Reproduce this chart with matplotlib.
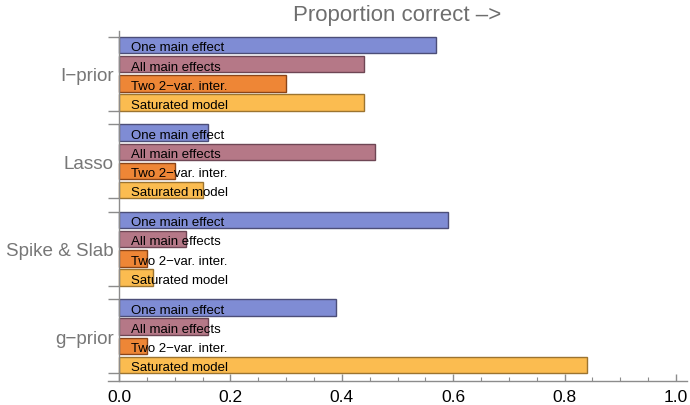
import numpy as np
import matplotlib
matplotlib.use('Agg')
import matplotlib.pyplot as plt
import matplotlib.ticker as ticker

plt.rcParams.update({
    'font.family': ['Liberation Sans', 'DejaVu Sans'],
})

# ---- data ----
methods = ['I\u2212prior', 'Lasso', 'Spike & Slab', 'g\u2212prior']
scenarios = ['One main effect', 'All main effects', 'Two 2\u2212var. inter.', 'Saturated model']
iprior = [0.57, 0.44, 0.30, 0.44]
lasso = [0.16, 0.46, 0.10, 0.15]
spike_slab = [0.59, 0.12, 0.05, 0.06]
gprior = [0.39, 0.16, 0.05, 0.84]
values = [iprior, lasso, spike_slab, gprior]

fills = ['#7F8CD4', '#B57887', '#EE8636', '#FBBC50']
edges = ['#4C4E78', '#6E4654', '#8A4418', '#9C7430']
axis_grey = '#8C8C8C'

fig = plt.figure(figsize=(6.9, 4.06), dpi=100)
ax = fig.add_axes([108 / 690, 24 / 406, 579 / 690, 350 / 406])

group_pitch = 4.56
bar_h = 0.85
n = len(scenarios)

for g, vals in enumerate(values):
    base = g * group_pitch
    for i, v in enumerate(vals):
        y = base + i
        ax.barh(y, v, height=bar_h, color=fills[i], edgecolor=edges[i],
                linewidth=1.0, zorder=2)
        ax.text(0.022, y + 0.12, scenarios[i], fontsize=9.5, va='center',
                ha='left', color='black', zorder=3)

group_centers = [g * group_pitch + (n - 1) / 2 for g in range(len(methods))]
edges_y = []
for g in range(len(methods)):
    edges_y += [g * group_pitch - bar_h / 2, g * group_pitch + n - 1 + bar_h / 2]

ax.set_xlim(-0.02, 1.02)
ax.set_ylim(3 * group_pitch + n - 1 + bar_h / 2 + 0.41, -bar_h / 2 - 0.31)

ax.spines['top'].set_visible(False)
ax.spines['right'].set_visible(False)
ax.spines['left'].set_position(('data', 0))
for s in ['left', 'bottom']:
    ax.spines[s].set_color(axis_grey)
    ax.spines[s].set_linewidth(1.0)

ax.set_yticks(group_centers)
ax.set_yticklabels(methods, fontsize=13.6, color='#777777')
ax.set_yticks(edges_y, minor=True)
ax.tick_params(axis='y', which='major', length=0, pad=4)
ax.tick_params(axis='y', which='minor', length=8, width=1.0, color=axis_grey,
               direction='out')

ax.xaxis.set_major_locator(ticker.MultipleLocator(0.2))
ax.xaxis.set_minor_locator(ticker.MultipleLocator(0.05))
ax.xaxis.set_major_formatter(ticker.FormatStrFormatter('%.1f'))
ax.tick_params(axis='x', which='major', direction='in', length=5, width=1.0,
               color=axis_grey, labelsize=12.5, pad=6)
ax.tick_params(axis='x', which='minor', direction='in', length=3, width=0.8,
               color=axis_grey)

fig.text(397 / 690, 1 - 16 / 406, 'Proportion correct \u2013>', fontsize=16,
         color='#6E6E6E', ha='center', va='center')

fig.savefig('out.png', dpi=100)
